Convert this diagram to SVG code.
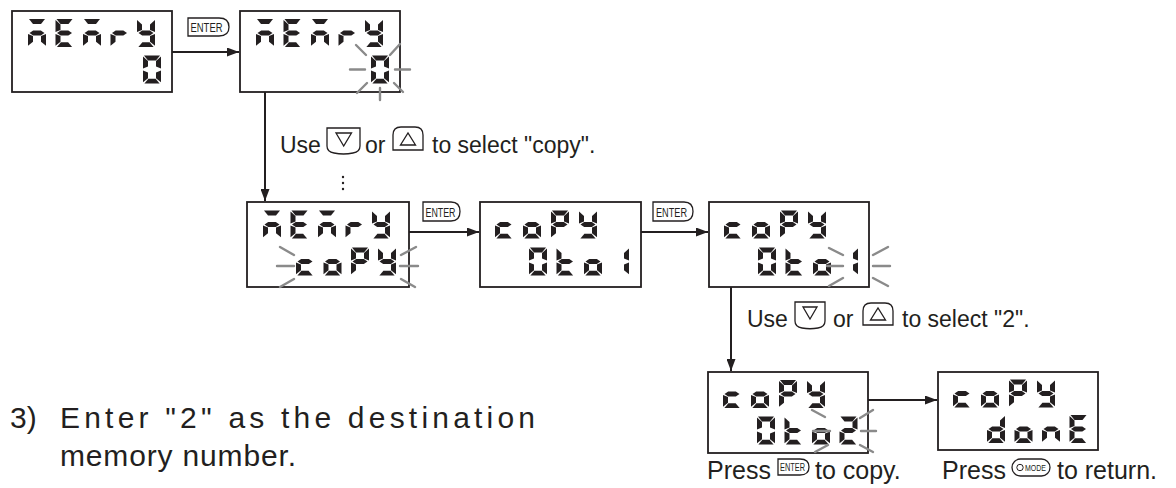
<svg xmlns="http://www.w3.org/2000/svg" width="1176" height="488" viewBox="0 0 1176 488">
<style>
.box{fill:#fff;stroke:#231f20;stroke-width:1.8}
.seg{fill:#231f20}
.gl{stroke:#8a8a8a;stroke-width:2.4;stroke-linecap:round;fill:none}
.t{font-family:"Liberation Sans",Arial,sans-serif;font-size:23px;fill:#231f20}
.p{font-family:"Liberation Sans",Arial,sans-serif;font-size:25px;fill:#231f20}
.big{font-family:"Liberation Sans",Arial,sans-serif;font-size:30px;fill:#231f20}
.key{fill:#fff;stroke:#231f20;stroke-width:1.3}
.kt{font-family:"Liberation Sans",Arial,sans-serif;fill:#231f20;text-anchor:middle}
.conn{stroke:#231f20;stroke-width:2;fill:none}
</style>
<defs>
<marker id="ah" viewBox="0 0 12 9" refX="12" refY="4.5" markerWidth="12" markerHeight="9" orient="auto" markerUnits="userSpaceOnUse"><path d="M0,0 L12,4.5 L0,9 Z" fill="#231f20"/></marker>
<polygon id="sa" class="seg" points="1,0 17,0 13,5 5,5"/>
<polygon id="sb" class="seg" points="18,1 18,13 13,11 13,5.4"/>
<polygon id="sc" class="seg" points="18,15 18,26.8 13,22.8 13,17"/>
<polygon id="sd" class="seg" points="1.4,28 5.4,23.2 12.6,23.2 16.6,28"/>
<polygon id="se" class="seg" points="0,15 5,17 5,22.8 0,26.8"/>
<polygon id="sf" class="seg" points="0,1 5,5.4 5,11 0,13"/>
<polygon id="sg" class="seg" points="1.5,14 5.2,11.6 12.8,11.6 16.5,14 12.8,16.4 5.2,16.4"/>
<g id="cM"><use href="#sa"/><use href="#se"/><use href="#sg"/><use href="#sc"/></g>
<g id="cE"><use href="#sa"/><use href="#sf"/><use href="#sg"/><use href="#se"/><use href="#sd"/></g>
<g id="cr"><use href="#se"/><use href="#sg"/></g>
<g id="cY"><use href="#sf"/><use href="#sb"/><use href="#sg"/><use href="#sc"/><use href="#sd"/></g>
<g id="c0"><use href="#sa"/><use href="#sb"/><use href="#sc"/><use href="#sd"/><use href="#se"/><use href="#sf"/></g>
<g id="cc"><use href="#sg"/><use href="#se"/><use href="#sd"/></g>
<g id="co"><use href="#sg"/><use href="#se"/><use href="#sc"/><use href="#sd"/></g>
<g id="cP"><use href="#sa"/><use href="#sb"/><use href="#sf"/><use href="#sg"/><use href="#se"/></g>
<g id="ct"><use href="#sf"/><use href="#sg"/><use href="#se"/><use href="#sd"/></g>
<g id="c1"><use href="#sb"/><use href="#sc"/></g>
<g id="c2"><use href="#sa"/><use href="#sb"/><use href="#sg"/><use href="#se"/><use href="#sd"/></g>
<g id="cd"><use href="#sb"/><use href="#sg"/><use href="#se"/><use href="#sc"/><use href="#sd"/></g>
<g id="cn"><use href="#se"/><use href="#sg"/><use href="#sc"/></g>
</defs>
<rect width="1176" height="488" fill="#fff"/>

<g id="connectors">
<line class="conn" x1="172" y1="52" x2="239" y2="52" marker-end="url(#ah)"/>
<line class="conn" x1="265" y1="92" x2="265" y2="201" marker-end="url(#ah)"/>
<line class="conn" x1="409" y1="232" x2="479" y2="232" marker-end="url(#ah)"/>
<line class="conn" x1="641" y1="232" x2="708" y2="232" marker-end="url(#ah)"/>
<line class="conn" x1="731" y1="287" x2="731" y2="371" marker-end="url(#ah)"/>
<line class="conn" x1="868" y1="400" x2="937" y2="400" marker-end="url(#ah)"/>
</g>

<g id="display1" aria-label="MEMRY 0">
<rect class="box" x="12" y="11" width="160" height="81"/>
<use href="#cM" x="28" y="19"/><use href="#cE" x="55.5" y="19"/><use href="#cM" x="83" y="19"/><use href="#cr" x="110.5" y="19"/><use href="#cY" x="137" y="19"/>
<use href="#c0" x="143" y="55.5"/>
</g>

<g id="key-enter1">
<path class="key" d="M188,18 H219 Q229,18 229,27 Q229,36 219,36 H188 Z"/>
<text class="kt" x="206.5" y="32" font-size="13.5" textLength="32" lengthAdjust="spacingAndGlyphs">ENTER</text>
</g>

<g id="display2" aria-label="MEMRY 0 flashing">
<rect class="box" x="240" y="11" width="160" height="81"/>
<use href="#cM" x="256" y="19"/><use href="#cE" x="283.5" y="19"/><use href="#cM" x="311" y="19"/><use href="#cr" x="338.5" y="19"/><use href="#cY" x="365" y="19"/>
<use href="#c0" x="371" y="55.5"/>
<path class="gl" d="M356,45 L366,55 M350,69.5 L365,69.5 M357,93 L367,83 M380,88 L380,100 M390,55 L400,44 M395,69.5 L410,69.5 M394,83 L403,92"/>
</g>

<g id="label-copy">
<text class="t" x="280" y="153">Use</text>
<path class="key" d="M327,128 H360 V146 Q360,152 353,153 Q343.5,155 334,153 Q327,152 327,146 Z"/>
<polygon points="336,133 351.5,133 343.7,146" fill="none" stroke="#231f20" stroke-width="1.3"/>
<text class="t" x="365" y="153">or</text>
<path class="key" d="M393,150 V135 Q393,127 401,127 H415 Q423,127 423,135 V150 Z"/>
<polygon points="400.5,145 415.5,145 408,133" fill="none" stroke="#231f20" stroke-width="1.3"/>
<text class="t" x="432" y="153">to select "copy".</text>
<circle cx="343" cy="177" r="1.2" fill="#231f20"/><circle cx="343" cy="183" r="1.2" fill="#231f20"/><circle cx="343" cy="189" r="1.2" fill="#231f20"/>
</g>

<g id="display3" aria-label="MEMRY coPY flashing">
<rect class="box" x="247" y="202" width="162" height="85"/>
<use href="#cM" x="263" y="210.5"/><use href="#cE" x="290.5" y="210.5"/><use href="#cM" x="318" y="210.5"/><use href="#cr" x="345.5" y="210.5"/><use href="#cY" x="372" y="210.5"/>
<use href="#cc" x="296" y="247.5"/><use href="#co" x="323.5" y="247.5"/><use href="#cP" x="351" y="247.5"/><use href="#cY" x="378" y="247.5"/>
<path class="gl" d="M280,247 L294,255 M277,266 L294,266 M280,287 L294,279 M401,255 L416,247 M400,266 L418,266 M401,279 L415,287"/>
</g>

<g id="key-enter2">
<path class="key" d="M423,202 H451 Q460,202 460,211.5 Q460,221 451,221 H423 Z"/>
<text class="kt" x="440.5" y="216.5" font-size="13" textLength="30" lengthAdjust="spacingAndGlyphs">ENTER</text>
</g>

<g id="display4" aria-label="coPY 0to1">
<rect class="box" x="480" y="202" width="161" height="85"/>
<use href="#cc" x="495" y="210.5"/><use href="#co" x="523" y="210.5"/><use href="#cP" x="551" y="210.5"/><use href="#cY" x="579" y="210.5"/>
<use href="#c0" x="529" y="247.5"/><use href="#ct" x="556.5" y="247.5"/><use href="#co" x="584" y="247.5"/><use href="#c1" x="611" y="247.5"/>
</g>

<g id="key-enter3">
<path class="key" d="M653,202 H684 Q693,202 693,211.5 Q693,221 684,221 H653 Z"/>
<text class="kt" x="671.5" y="216.5" font-size="13" textLength="31" lengthAdjust="spacingAndGlyphs">ENTER</text>
</g>

<g id="display5" aria-label="coPY 0to1 flashing">
<rect class="box" x="709" y="202" width="160" height="85"/>
<use href="#cc" x="724" y="210.5"/><use href="#co" x="752" y="210.5"/><use href="#cP" x="780" y="210.5"/><use href="#cY" x="808" y="210.5"/>
<use href="#c0" x="758" y="247.5"/><use href="#ct" x="785.5" y="247.5"/><use href="#co" x="813" y="247.5"/><use href="#c1" x="840" y="247.5"/>
<path class="gl" d="M829,248 L843,255 M827,266 L843,266 M829,286 L843,278 M873,255 L888,247 M873,266 L890,266 M873,278 L888,286"/>
</g>

<g id="label-2">
<text class="t" x="747" y="327">Use</text>
<path class="key" d="M795,302 H825 V321 Q825,327 818,328 Q810,329.5 802,328 Q795,327 795,321 Z"/>
<polygon points="803,307 817,307 810,319" fill="none" stroke="#231f20" stroke-width="1.3"/>
<text class="t" x="833" y="327">or</text>
<path class="key" d="M863,325 V311 Q863,303 871,303 H885 Q893,303 893,311 V325 Z"/>
<polygon points="870.5,320 885.5,320 878,308" fill="none" stroke="#231f20" stroke-width="1.3"/>
<text class="t" x="902" y="327">to select "2".</text>
</g>

<g id="display6" aria-label="coPY 0to2 flashing">
<rect class="box" x="708" y="372" width="160" height="81"/>
<use href="#cc" x="723" y="380"/><use href="#co" x="751" y="380"/><use href="#cP" x="779" y="380"/><use href="#cY" x="807" y="380"/>
<use href="#c0" x="757" y="416.5"/><use href="#ct" x="784.5" y="416.5"/><use href="#co" x="812" y="416.5"/><use href="#c2" x="839.5" y="416.5"/>
<path class="gl" d="M812,410 L825,417 M813,431 L830,431 M815,452 L828,445 M860,418 L873,410 M861,431 L876,431 M860,445 L873,452"/>
</g>

<g id="display7" aria-label="coPY donE">
<rect class="box" x="938" y="372" width="160" height="78"/>
<use href="#cc" x="953" y="379.5"/><use href="#co" x="981" y="379.5"/><use href="#cP" x="1009" y="379.5"/><use href="#cY" x="1037" y="379.5"/>
<use href="#cd" x="987" y="415"/><use href="#co" x="1014.5" y="415"/><use href="#cn" x="1042" y="415"/><use href="#cE" x="1069.5" y="415"/>
</g>

<g id="caption-copy">
<text class="p" x="707" y="479">Press</text>
<path class="key" d="M778,459 H800 Q809,459 809,467 Q809,475 800,475 H778 Z"/>
<text class="kt" x="792.5" y="471" font-size="10.5" textLength="25" lengthAdjust="spacingAndGlyphs">ENTER</text>
<text class="p" x="815" y="479">to copy.</text>
</g>

<g id="caption-return">
<text class="p" x="942" y="479">Press</text>
<rect class="key" x="1012" y="459" width="38" height="17" rx="8.5"/>
<circle cx="1020" cy="467.5" r="3.2" fill="none" stroke="#231f20" stroke-width="1"/>
<text class="kt" x="1035.5" y="471" font-size="9" textLength="21" lengthAdjust="spacingAndGlyphs">MODE</text>
<text class="p" x="1057" y="479">to return.</text>
</g>

<g id="step-text">
<text class="big" x="10" y="428">3)</text>
<text class="big" x="60" y="428" textLength="475" lengthAdjust="spacing">Enter "2" as the destination</text>
<text class="big" x="60" y="466" textLength="236" lengthAdjust="spacing">memory number.</text>
</g>
</svg>
